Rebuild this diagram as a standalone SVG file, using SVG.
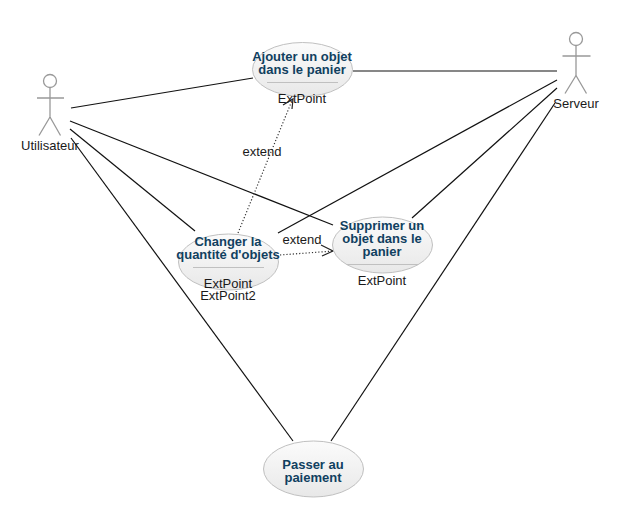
<svg xmlns="http://www.w3.org/2000/svg" width="626" height="526" viewBox="0 0 626 526">
<style>
.uc{fill:url(#g);stroke:#c0c0c0;stroke-width:1}
.sep{stroke:#c0c0c0;stroke-width:1;fill:none}
.t{font:bold 13px "Liberation Sans",Arial,sans-serif;fill:#10405f;text-anchor:middle}
.l{font:13px "Liberation Sans",Arial,sans-serif;fill:#1a1a1a;text-anchor:middle}
.a{stroke:#999;stroke-width:1.3;fill:none}
.c{stroke:#111;stroke-width:1.2;fill:none}
.d{stroke:#333;stroke-width:1.2;fill:none;stroke-dasharray:1.2 2}
.h{stroke:#222;stroke-width:1.2;fill:none}
</style>
<defs><linearGradient id="g" x1="0" y1="0" x2="0" y2="1"><stop offset="0" stop-color="#fbfbfb"/><stop offset="1" stop-color="#e8e8e8"/></linearGradient></defs>
<rect width="626" height="526" fill="#fff"/>
<g id="connectors">
<path class="c" d="M71 108L253 78"/>
<path class="c" d="M70 121L333 225"/>
<path class="c" d="M70 129L195 231"/>
<path class="c" d="M71 138L293 441"/>
<path class="c" d="M353 71L557 71"/>
<path class="c" d="M278 233L557 80"/>
<path class="c" d="M412 218L557 88"/>
<path class="c" d="M331 441L555 103"/>
<path class="d" d="M238 233L291 103"/>
<path class="h" d="M283 105L293 99L292 109"/>
<path class="d" d="M280 255L333 251"/>
<path class="h" d="M321 245L333 251L322 256"/>
</g>
<g id="actor-utilisateur">
<circle class="a" cx="50" cy="81" r="6.5"/>
<path class="a" d="M50 88V117M37 98H64M50 117L39 135.500M50 117L60.500 135.500"/>
<text class="l" x="50" y="150">Utilisateur</text>
</g>
<g id="actor-serveur">
<circle class="a" cx="576" cy="39" r="6.500"/>
<path class="a" d="M576 46V75.500M562.500 56H590.500M576 75.500L565 93.500M576 75.500L586.500 93.500"/>
<text class="l" x="576" y="108">Serveur</text>
</g>
<g id="uc-ajouter">
<ellipse class="uc" cx="302.500" cy="69.500" rx="50" ry="27"/>
<path class="sep" d="M267 82.500H338"/>
<text class="t" x="302" y="61">Ajouter un objet</text>
<text class="t" x="302" y="74">dans le panier</text>
<text class="l" x="302" y="103">ExtPoint</text>
</g>
<g id="uc-changer">
<ellipse class="uc" cx="228.500" cy="262" rx="50" ry="28"/>
<path class="sep" d="M193 267.500H264"/>
<text class="t" x="228" y="246">Changer la</text>
<text class="t" x="228" y="259">quantité d'objets</text>
<text class="l" x="228" y="288">ExtPoint</text>
<text class="l" x="228" y="300">ExtPoint2</text>
</g>
<g id="uc-supprimer">
<ellipse class="uc" cx="382.500" cy="245" rx="50" ry="28"/>
<path class="sep" d="M347 264.500H418"/>
<text class="t" x="382" y="230">Supprimer un</text>
<text class="t" x="382" y="243">objet dans le</text>
<text class="t" x="382" y="256">panier</text>
<text class="l" x="382" y="285">ExtPoint</text>
</g>
<g id="uc-paiement">
<ellipse class="uc" cx="313.500" cy="469" rx="50" ry="28"/>
<text class="t" x="313" y="469">Passer au</text>
<text class="t" x="313" y="482">paiement</text>
</g>
<text class="l" x="262" y="156">extend</text>
<text class="l" x="302" y="244">extend</text>
</svg>
